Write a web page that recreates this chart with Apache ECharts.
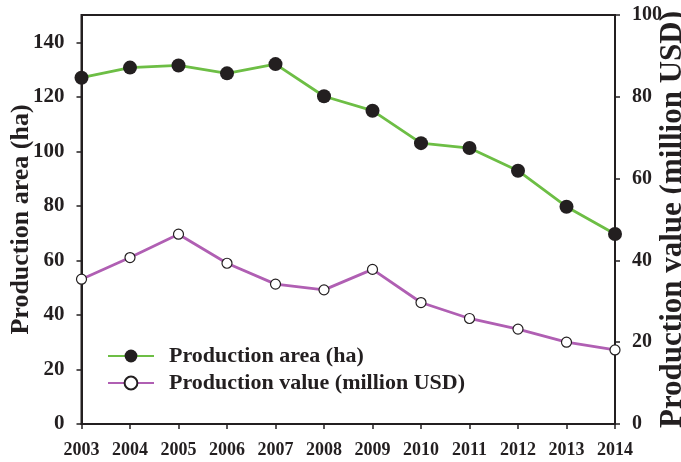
<!DOCTYPE html>
<html>
<head>
<meta charset="utf-8">
<script src="https://cdn.jsdelivr.net/npm/echarts@6/dist/echarts.min.js"></script>
<style>
  html, body { margin: 0; padding: 0; background: #fff; }
  #chart { width: 681px; height: 462px; }
</style>
</head>
<body>
<div id="chart"></div>
<script>
var years = ['2003', '2004', '2005', '2006', '2007', '2008', '2009', '2010', '2011', '2012', '2013', '2014'];
// production area (ha), left axis
var areaData = [127, 130.7, 131.5, 128.6, 132, 120.2, 114.9, 103, 101.2, 92.9, 79.7, 69.7];
// production value (million USD), right axis
var valueData = [35.4, 40.7, 46.4, 39.3, 34.2, 32.8, 37.8, 29.7, 25.8, 23.2, 20.0, 18.1];

var serif = "'Liberation Serif', 'Times New Roman', serif";
var ink = '#231f20';

var myChart = echarts.init(document.getElementById('chart'));

var axisCommon = {
  axisLine: { show: true, lineStyle: { color: ink, width: 2 } },
  axisTick: { show: true, inside: false, length: 5, lineStyle: { color: ink, width: 1.5 } },
  splitLine: { show: false }
};

var option = {
  animation: false,
  backgroundColor: '#fff',
  grid: {
    left: 81.5, right: 66, top: 15, bottom: 38,
    outerBoundsMode: 'none',
    containLabel: false,
    show: true, borderColor: ink, borderWidth: 2
  },
  legend: {
    orient: 'vertical',
    left: 102, top: 340,
    itemWidth: 46, itemHeight: 16,
    itemGap: 5,
    textStyle: { fontFamily: serif, fontWeight: 'bold', fontSize: 22, color: ink, padding: [0, 0, 0, 10] },
    data: ['Production area (ha)', 'Production value (million USD)']
  },
  xAxis: Object.assign({}, axisCommon, {
    type: 'category',
    boundaryGap: false,
    data: years,
    axisTick: { show: true, alignWithLabel: true, interval: 0, length: 5, lineStyle: { color: ink, width: 1.5 } },
    axisLabel: { interval: 0, fontFamily: serif, fontWeight: 'bold', fontSize: 18, color: ink, margin: 17 }
  }),
  yAxis: [
    Object.assign({}, axisCommon, {
      type: 'value', min: 0, max: 150, interval: 20,
      name: 'Production area (ha)',
      nameLocation: 'middle', nameRotate: 90, nameGap: 47,
      nameMoveOverlap: false,
      nameTextStyle: { fontFamily: serif, fontWeight: 'bold', fontSize: 26, color: ink },
      axisLabel: { fontFamily: serif, fontWeight: 'bold', fontSize: 21, color: ink, margin: 17, showMaxLabel: false }
    }),
    Object.assign({}, axisCommon, {
      type: 'value', min: 0, max: 100, interval: 20,
      position: 'right',
      name: 'Production value (million USD)',
      nameLocation: 'middle', nameRotate: 90, nameGap: 42,
      nameMoveOverlap: false,
      nameTextStyle: { fontFamily: serif, fontWeight: 'bold', fontSize: 31, color: ink },
      axisLabel: { fontFamily: serif, fontWeight: 'bold', fontSize: 20, color: ink, margin: 17 }
    })
  ],
  series: [
    {
      name: 'Production area (ha)',
      type: 'line',
      yAxisIndex: 0,
      data: areaData,
      symbol: 'circle',
      symbolSize: 14,
      lineStyle: { color: '#6dbe45', width: 2.8 },
      itemStyle: { color: ink, borderColor: ink, borderWidth: 0 }
    },
    {
      name: 'Production value (million USD)',
      type: 'line',
      yAxisIndex: 1,
      data: valueData,
      symbol: 'circle',
      symbolSize: 10,
      lineStyle: { color: '#b05fb3', width: 2.8 },
      itemStyle: { color: '#fff', borderColor: ink, borderWidth: 1.2 }
    }
  ]
};

myChart.setOption(option);
</script>
</body>
</html>
